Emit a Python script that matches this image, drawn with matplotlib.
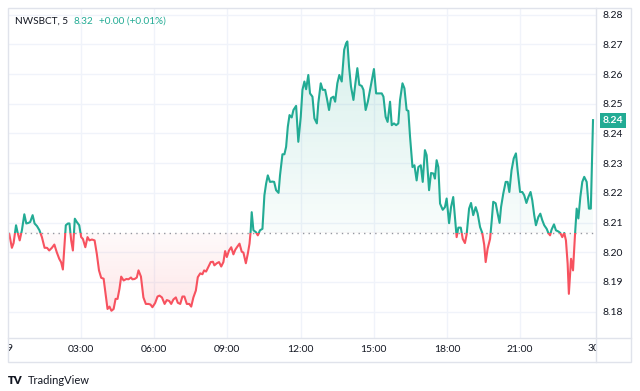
import numpy as np
import matplotlib.pyplot as plt
from matplotlib.patches import Rectangle
from matplotlib.path import Path
from matplotlib.lines import Line2D
from matplotlib.transforms import Bbox, TransformedBbox, blended_transform_factory

plt.rcParams['font.family'] = ['Lato', 'DejaVu Sans']

# texty hlavicky
symbol = 'NWSBCT, 5'
last_text = '8.32'
change_text = '+0.00 (+0.01%)'
badge_text = '8.24'

prev_close = 8.2065   # bodkovana ciara
last_price = 8.2445

# cas v hodinach (5 min sviecky) a ceny
hours = [
    0.06, 0.17, 0.24, 0.34, 0.40, 0.49, 0.58, 0.68, 0.76, 0.85,
    0.92, 1.02, 1.10, 1.20, 1.30, 1.40, 1.51, 1.61, 1.70, 1.81,
    1.91, 2.01, 2.11, 2.19, 2.26, 2.33, 2.38, 2.47, 2.53, 2.60,
    2.67, 2.75, 2.83, 2.93, 3.01, 3.08, 3.18, 3.27, 3.35, 3.45,
    3.56, 3.65, 3.74, 3.83, 3.93, 4.01, 4.09, 4.17, 4.25, 4.34,
    4.42, 4.50, 4.58, 4.65, 4.75, 4.86, 4.95, 5.05, 5.11, 5.20,
    5.29, 5.36, 5.46, 5.56, 5.66, 5.77, 5.85, 5.93, 6.04, 6.14,
    6.22, 6.32, 6.43, 6.52, 6.62, 6.70, 6.79, 6.89, 6.97, 7.07,
    7.16, 7.24, 7.34, 7.44, 7.52, 7.61, 7.71, 7.79, 7.89, 7.98,
    8.05, 8.13, 8.23, 8.32, 8.41, 8.47, 8.57, 8.66, 8.75, 8.84,
    8.91, 8.98, 9.07, 9.16, 9.25, 9.33, 9.42, 9.50, 9.59, 9.66,
    9.76, 9.84, 9.91, 9.96, 10.00, 10.07, 10.17, 10.25, 10.34, 10.44,
    10.52, 10.59, 10.66, 10.75, 10.85, 10.92, 11.00, 11.10, 11.16, 11.26,
    11.34, 11.41, 11.48, 11.55, 11.64, 11.71, 11.82, 11.91, 12.01, 12.08,
    12.16, 12.23, 12.32, 12.39, 12.49, 12.57, 12.67, 12.73, 12.83, 12.91,
    13.01, 13.08, 13.17, 13.25, 13.35, 13.42, 13.51, 13.59, 13.69, 13.79,
    13.87, 13.92, 13.99, 14.07, 14.17, 14.25, 14.33, 14.41, 14.51, 14.58,
    14.67, 14.76, 14.85, 14.92, 15.01, 15.10, 15.19, 15.33, 15.40, 15.49,
    15.57, 15.67, 15.74, 15.83, 15.92, 16.01, 16.08, 16.18, 16.26, 16.35,
    16.42, 16.49, 16.59, 16.67, 16.76, 16.83, 16.93, 17.01, 17.10, 17.17,
    17.27, 17.35, 17.45, 17.51, 17.58, 17.65, 17.72, 17.83, 17.92, 17.99,
    18.09, 18.17, 18.26, 18.33, 18.40, 18.47, 18.57, 18.65, 18.74, 18.81,
    18.91, 18.99, 19.08, 19.18, 19.26, 19.36, 19.45, 19.53, 19.59, 19.67,
    19.77, 19.84, 19.90, 20.00, 20.08, 20.16, 20.22, 20.31, 20.41, 20.49,
    20.56, 20.65, 20.74, 20.83, 20.90, 21.00, 21.09, 21.17, 21.26, 21.34,
    21.43, 21.50, 21.58, 21.65, 21.75, 21.83, 21.91, 21.99, 22.09, 22.16,
    22.23, 22.29, 22.39, 22.47, 22.57, 22.65, 22.73, 22.81, 22.88, 22.95,
    23.00, 23.09, 23.17, 23.25, 23.32, 23.39, 23.47, 23.55, 23.63, 23.73,
    23.82, 23.90, 23.99,
]
prices = [
    8.2062, 8.2015, 8.2031, 8.2091, 8.2068, 8.2040, 8.2074, 8.2128, 8.2097, 8.2099,
    8.2102, 8.2125, 8.2097, 8.2088, 8.2074, 8.2051, 8.2015, 8.2015, 8.2006, 8.2015,
    8.2026, 8.2000, 8.1978, 8.1966, 8.1942, 8.2029, 8.2091, 8.2097, 8.2097, 8.2040,
    8.2006, 8.2113, 8.2102, 8.2091, 8.2051, 8.2045, 8.2017, 8.2051, 8.2040, 8.2043,
    8.2040, 8.1995, 8.1939, 8.1914, 8.1911, 8.1860, 8.1809, 8.1817, 8.1803, 8.1809,
    8.1843, 8.1843, 8.1877, 8.1918, 8.1905, 8.1910, 8.1909, 8.1915, 8.1909, 8.1910,
    8.1915, 8.1939, 8.1918, 8.1848, 8.1826, 8.1826, 8.1824, 8.1815, 8.1829, 8.1851,
    8.1854, 8.1848, 8.1826, 8.1839, 8.1836, 8.1826, 8.1841, 8.1848, 8.1830, 8.1826,
    8.1851, 8.1851, 8.1826, 8.1826, 8.1817, 8.1848, 8.1871, 8.1916, 8.1929, 8.1926,
    8.1939, 8.1935, 8.1952, 8.1967, 8.1968, 8.1956, 8.1963, 8.1967, 8.1952, 8.1967,
    8.2004, 8.1984, 8.2006, 8.2017, 8.1993, 8.2009, 8.2020, 8.2029, 8.2002, 8.1999,
    8.1963, 8.1995, 8.2029, 8.2074, 8.2135, 8.2074, 8.2068, 8.2057, 8.2074, 8.2079,
    8.2192, 8.2231, 8.2259, 8.2237, 8.2238, 8.2237, 8.2209, 8.2200, 8.2259, 8.2330,
    8.2330, 8.2355, 8.2423, 8.2462, 8.2454, 8.2479, 8.2493, 8.2372, 8.2456, 8.2547,
    8.2575, 8.2549, 8.2597, 8.2535, 8.2524, 8.2451, 8.2434, 8.2502, 8.2569, 8.2547,
    8.2547, 8.2519, 8.2479, 8.2519, 8.2524, 8.2507, 8.2569, 8.2597, 8.2575, 8.2682,
    8.2704, 8.2710, 8.2625, 8.2558, 8.2513, 8.2569, 8.2620, 8.2564, 8.2560, 8.2547,
    8.2479, 8.2507, 8.2547, 8.2580, 8.2617, 8.2535, 8.2535, 8.2535, 8.2524, 8.2456,
    8.2439, 8.2507, 8.2428, 8.2434, 8.2428, 8.2434, 8.2513, 8.2569, 8.2552, 8.2479,
    8.2476, 8.2389, 8.2287, 8.2293, 8.2242, 8.2287, 8.2293, 8.2237, 8.2344, 8.2327,
    8.2209, 8.2267, 8.2265, 8.2248, 8.2310, 8.2287, 8.2164, 8.2143, 8.2152, 8.2181,
    8.2098, 8.2152, 8.2186, 8.2118, 8.2051, 8.2083, 8.2083, 8.2045, 8.2031, 8.2060,
    8.2147, 8.2166, 8.2125, 8.2152, 8.2131, 8.2085, 8.2065, 8.2025, 8.1967, 8.2012,
    8.2045, 8.2108, 8.2170, 8.2165, 8.2131, 8.2099, 8.2152, 8.2197, 8.2237, 8.2237,
    8.2203, 8.2276, 8.2316, 8.2333, 8.2276, 8.2203, 8.2203, 8.2192, 8.2166, 8.2186,
    8.2203, 8.2175, 8.2125, 8.2091, 8.2119, 8.2130, 8.2108, 8.2091, 8.2079, 8.2065,
    8.2057, 8.2076, 8.2094, 8.2074, 8.2070, 8.2065, 8.2051, 8.2065, 8.2040, 8.1961,
    8.1860, 8.1978, 8.1939, 8.2057, 8.2147, 8.2114, 8.2186, 8.2237, 8.2254, 8.2237,
    8.2147, 8.2147, 8.2445,
]

y_ticks = [8.18, 8.19, 8.20, 8.21, 8.22, 8.23, 8.24, 8.25, 8.26, 8.27, 8.28]
x_ticks = [3, 6, 9, 12, 15, 18, 21]
x_labels = ['03:00', '06:00', '09:00', '12:00', '15:00', '18:00', '21:00']
edge_ticks = [0, 24]
edge_labels = ['29', '30']

teal = '#22ab94'
red = '#f7525f'
grid_c = '#f0f3fa'
border_c = '#e0e3eb'
text_c = '#131722'

W, H = 640, 391
def fx(x):
    return x / W
def fy(y):
    return 1 - y / H

fig = plt.figure(figsize=(6.4, 3.91), dpi=100)
ax = fig.add_axes([fx(7.5), fy(338.3), (595.7 - 7.5) / W, (338.3 - 7.7) / H])
x0, x1 = -0.01, 24.10
y0, y1 = 8.17103, 8.28236

# vypln s prechodom farby
poly = ax.fill_between(hours, prices, prev_close, color='none', lw=0)
clip = Path.make_compound_path(*poly.get_paths())

up = np.zeros((100, 1, 4))
up[:, 0, :3] = (0x22 / 255, 0xab / 255, 0x94 / 255)
up[:, 0, 3] = np.linspace(0.03, 0.20, 100)
im_up = ax.imshow(up, extent=[x0, x1, prev_close, y1], origin='lower', aspect='auto', zorder=1)
im_up.set_clip_path(clip, ax.transData)

dn = np.zeros((100, 1, 4))
dn[:, 0, :3] = (0xf7 / 255, 0x52 / 255, 0x5f / 255)
dn[:, 0, 3] = np.linspace(0.18, 0.03, 100)
im_dn = ax.imshow(dn, extent=[x0, x1, y0, prev_close], origin='lower', aspect='auto', zorder=1)
im_dn.set_clip_path(clip, ax.transData)

# ciara: nad zavretim zelena, pod nim cervena
up_clip = Rectangle((x0, prev_close), x1 - x0, y1 - prev_close, transform=ax.transData)
dn_clip = Rectangle((x0, y0), x1 - x0, prev_close - y0, transform=ax.transData)
l1, = ax.plot(hours, prices, color=teal, lw=1.5, zorder=3, solid_joinstyle='round')
l1.set_clip_path(up_clip)
l2, = ax.plot(hours, prices, color=red, lw=1.5, zorder=3, solid_joinstyle='round')
l2.set_clip_path(dn_clip)

ax.axhline(prev_close, color='#9598a1', lw=1, ls=(0, (1, 3)), zorder=2)

ax.set_xlim(x0, x1)
ax.set_ylim(y0, y1)
ax.set_yticks(y_ticks)
ax.set_yticklabels([f'{v:.2f}' for v in y_ticks])
ax.set_xticks(x_ticks)
ax.set_xticklabels(x_labels)
ax.yaxis.tick_right()
ax.grid(color=grid_c, lw=1)
ax.set_axisbelow(True)
ax.tick_params(length=0, labelsize=7.5, colors=text_c)
ax.tick_params(axis='y', pad=5)
ax.tick_params(axis='x', pad=5)
for s in ax.spines.values():
    s.set_visible(False)

# okrajove popisky (orezane ramcekom)
strip = TransformedBbox(Bbox([[fx(7.5), fy(361.7)], [fx(595.7), fy(338.3)]]), fig.transFigure)
for t, lab in zip(edge_ticks, edge_labels):
    tx = ax.text(t, -0.016, lab, transform=ax.get_xaxis_transform(), ha='center', va='top',
                 fontsize=7.5, color=text_c, clip_on=True)
    tx.set_clip_box(strip)

# ramceky
fig.add_artist(Rectangle((fx(7.5), fy(361.7)), (631 - 7.5) / W, (361.7 - 7.7) / H,
                         transform=fig.transFigure, fill=False, ec=border_c, lw=1))
fig.add_artist(Line2D([fx(595.7), fx(595.7)], [fy(7.7), fy(361.7)], color=border_c, lw=1))
fig.add_artist(Line2D([fx(7.5), fx(631)], [fy(338.3), fy(338.3)], color=border_c, lw=1))

# stitok s poslednou cenou
badge_tr = blended_transform_factory(fig.transFigure, ax.transData)
ax.text(fx(613), last_price, badge_text, transform=badge_tr, ha='center', va='center',
        fontsize=7.5, weight='bold', color='white', clip_on=False, zorder=5,
        bbox=dict(boxstyle='square,pad=0.3', fc=teal, ec='none'))

# hlavicka - texty za sebou
t1 = fig.text(fx(15), fy(21.5), symbol, fontsize=7.2, color=text_c, va='center')
t2 = fig.text(0, 0, last_text, fontsize=7.2, color=teal, va='center')
t3 = fig.text(0, 0, change_text, fontsize=7.2, color=teal, va='center')
fig.canvas.draw()
r = fig.canvas.get_renderer()
e1 = t1.get_window_extent(r)
t2.set_position((fx(e1.x1 + 5), fy(21.5)))
e2 = t2.get_window_extent(r)
t3.set_position((fx(e2.x1 + 6), fy(21.5)))

# logo
fig.text(fx(7.5), fy(380), 'TV', fontsize=8, weight='heavy', color=text_c, va='center')
fig.text(fx(28), fy(380), 'TradingView', fontsize=8, color=text_c, va='center')

fig.savefig('out.png', dpi=100)
